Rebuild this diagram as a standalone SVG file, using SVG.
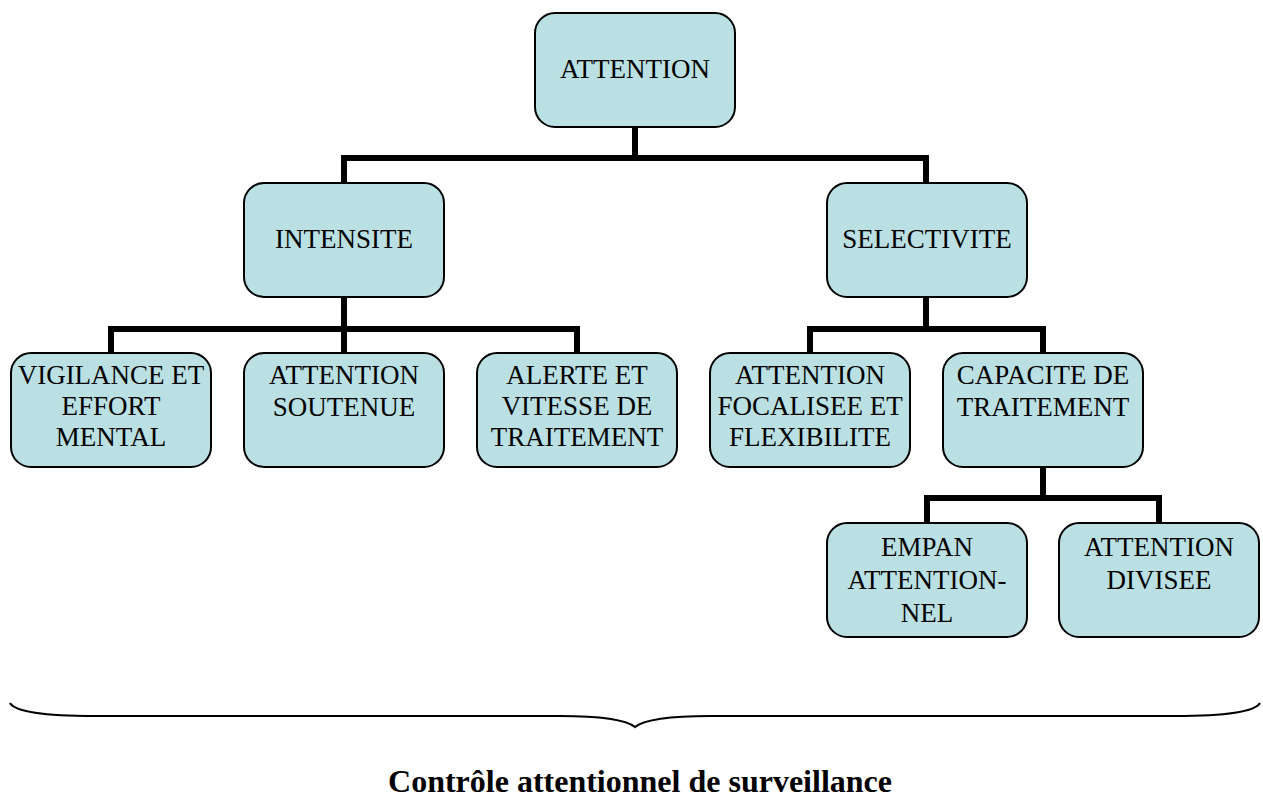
<svg xmlns="http://www.w3.org/2000/svg" width="1263" height="801" viewBox="0 0 1263 801">
  <style>
    .box { fill: #BBE0E3; stroke: #000; stroke-width: 2; }
    .lbl { font-family: "Liberation Serif", "Times New Roman", serif; font-size: 27px; fill: #000; text-anchor: middle; }
    .conn { fill: none; stroke: #000; stroke-width: 6; stroke-linejoin: miter; stroke-linecap: square; }
    .brace { fill: none; stroke: #000; stroke-width: 2.2; }
    .title { font-family: "Liberation Serif", "Times New Roman", serif; font-size: 32px; font-weight: bold; fill: #000; text-anchor: middle; }
  </style>
  <rect width="1263" height="801" fill="#fff"/>
  <g id="connectors">
    <path class="conn" d="M635,127 V158 M344,183 V158 H926 V183"/>
    <path class="conn" d="M344,297 V329 M111,353 V329 H577 V353 M344,329 V353"/>
    <path class="conn" d="M926,297 V329 M810,353 V329 H1043 V353"/>
    <path class="conn" d="M1043,467 V498 M927,523 V498 H1159 V523"/>
  </g>
  <g id="n-attention">
    <rect class="box" x="535" y="13" width="200" height="114" rx="20"/>
    <text class="lbl" x="635" y="78">ATTENTION</text>
  </g>
  <g id="n-intensite">
    <rect class="box" x="244" y="183" width="200" height="114" rx="20"/>
    <text class="lbl" x="344" y="248">INTENSITE</text>
  </g>
  <g id="n-selectivite">
    <rect class="box" x="827" y="183" width="200" height="114" rx="20"/>
    <text class="lbl" x="927" y="248">SELECTIVITE</text>
  </g>
  <g id="n-vigilance">
    <rect class="box" x="11" y="353" width="200" height="114" rx="20"/>
    <text class="lbl" x="111" y="384">VIGILANCE ET</text>
    <text class="lbl" x="111" y="415">EFFORT</text>
    <text class="lbl" x="111" y="446">MENTAL</text>
  </g>
  <g id="n-soutenue">
    <rect class="box" x="244" y="353" width="200" height="114" rx="20"/>
    <text class="lbl" x="344" y="384">ATTENTION</text>
    <text class="lbl" x="344" y="416">SOUTENUE</text>
  </g>
  <g id="n-alerte">
    <rect class="box" x="477" y="353" width="200" height="114" rx="20"/>
    <text class="lbl" x="577" y="384">ALERTE ET</text>
    <text class="lbl" x="577" y="415">VITESSE DE</text>
    <text class="lbl" x="577" y="446">TRAITEMENT</text>
  </g>
  <g id="n-focalisee">
    <rect class="box" x="710" y="353" width="200" height="114" rx="20"/>
    <text class="lbl" x="810" y="384">ATTENTION</text>
    <text class="lbl" x="810" y="415">FOCALISEE ET</text>
    <text class="lbl" x="810" y="446">FLEXIBILITE</text>
  </g>
  <g id="n-capacite">
    <rect class="box" x="943" y="353" width="200" height="114" rx="20"/>
    <text class="lbl" x="1043" y="384">CAPACITE DE</text>
    <text class="lbl" x="1043" y="416">TRAITEMENT</text>
  </g>
  <g id="n-empan">
    <rect class="box" x="827" y="523" width="200" height="114" rx="20"/>
    <text class="lbl" x="927" y="556">EMPAN</text>
    <text class="lbl" x="927" y="589">ATTENTION-</text>
    <text class="lbl" x="927" y="622">NEL</text>
  </g>
  <g id="n-divisee">
    <rect class="box" x="1059" y="523" width="200" height="114" rx="20"/>
    <text class="lbl" x="1159" y="556">ATTENTION</text>
    <text class="lbl" x="1159" y="589">DIVISEE</text>
  </g>
  <g id="brace">
    <path class="brace" d="M10,703 C16,713 55,716 95,716 L560,716 C600,716 625,719 635,727 C645,719 670,716 710,716 L1175,716 C1215,716 1254,713 1260,703"/>
  </g>
  <g id="caption">
    <text class="title" x="640" y="792">Contrôle attentionnel de surveillance</text>
  </g>
</svg>
